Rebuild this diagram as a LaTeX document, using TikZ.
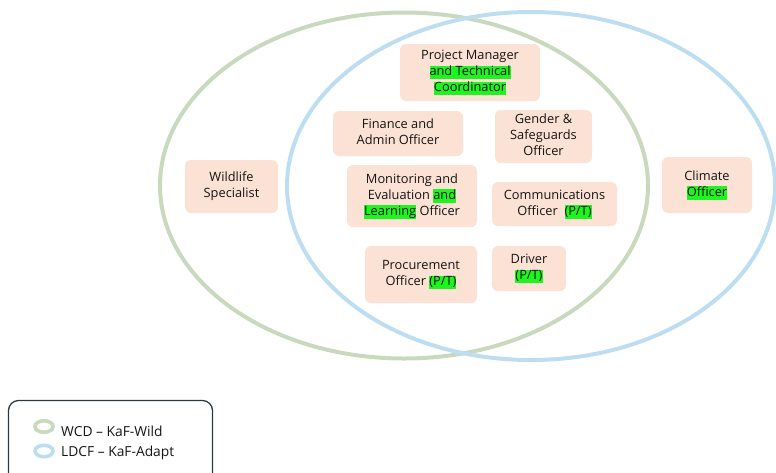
\documentclass[tikz,border=0pt]{standalone}
\usepackage{fontspec}
\setmainfont{Open Sans}
\usetikzlibrary{shapes.geometric}
\definecolor{wcdgreen}{RGB}{200,217,190}
\definecolor{ldcfblue}{RGB}{189,222,240}
\definecolor{boxfill}{RGB}{251,226,213}
\definecolor{hlg}{RGB}{30,245,30}
\definecolor{legline}{RGB}{45,55,70}
\newcommand\hl[1]{{\setlength{\fboxsep}{0pt}\colorbox{hlg}{\rule[-3.4pt]{0pt}{13.2pt}#1}}}
\newcommand\rt[1]{\begin{tabular}{@{}c@{}}#1\end{tabular}}
\tikzset{
  role/.style={rectangle, rounded corners=6pt, fill=boxfill, draw=none, align=center,
    inner sep=0pt, text=black!92, font=\fontsize{12.8}{16}\selectfont},
  fund/.style={line width=4pt},
  ring/.style={ellipse, line width=3.6pt, inner sep=0pt, minimum width=18pt, minimum height=11.5pt},
  legtext/.style={anchor=west, inner sep=0pt, font=\fontsize{13.8}{17}\selectfont, text=black!92}
}
\begin{document}
\begin{tikzpicture}[x=1pt,y=-1pt]
\useasboundingbox (0,0) rectangle (776,472);
\clip (0,0) rectangle (776,472);
% funding ellipses
\draw[fund, draw=wcdgreen] (404,185.5) ellipse [x radius=244, y radius=173];
\draw[fund, draw=ldcfblue] (531,186) ellipse [x radius=244, y radius=174];
% roles
\node[role, minimum width=140pt, minimum height=57pt] (pm) at (470,72.5)
  {\rt{Project Manager\\\hl{and Technical}\\\hl{Coordinator}}};
\node[role, minimum width=130pt, minimum height=45pt] (fin) at (398,133.5)
  {\rt{Finance and\\Admin Officer}};
\node[role, minimum width=97pt, minimum height=53pt] (gen) at (543.5,136.5)
  {\rt{Gender \&\\Safeguards\\Officer}};
\node[role, minimum width=130pt, minimum height=62pt] (me) at (412,196)
  {\rt{Monitoring and\\Evaluation \hl{and}\\\hl{Learning} Officer}};
\node[role, minimum width=125pt, minimum height=44pt] (com) at (554.5,204)
  {\rt{Communications\\Officer\ \ \hl{(P/T)}}};
\node[role, minimum width=112pt, minimum height=57pt] (proc) at (421,274.5)
  {\rt{Procurement\\Officer \hl{(P/T)}}};
\node[role, minimum width=74pt, minimum height=45pt] (drv) at (529,268.5)
  {\rt{Driver\\\hl{(P/T)}}};
\node[role, minimum width=93pt, minimum height=53pt] (wild) at (231.5,186.5)
  {\rt{Wildlife\\Specialist}};
\node[role, minimum width=90pt, minimum height=56pt] (clim) at (707,185)
  {\rt{Climate\\\hl{Officer}}};
% legend
\draw[legline, line width=1.3pt, rounded corners=10pt] (8.5,400.5) rectangle (212.5,490);
\node[ring, draw=wcdgreen] (ringw) at (44,426.5) {};
\node[ring, draw=ldcfblue] (ringl) at (44,451) {};
\node[legtext] (legw) at (61,431) {WCD – KaF-Wild};
\node[legtext] (legl) at (61,452.5) {LDCF – KaF-Adapt};
\end{tikzpicture}
\end{document}
